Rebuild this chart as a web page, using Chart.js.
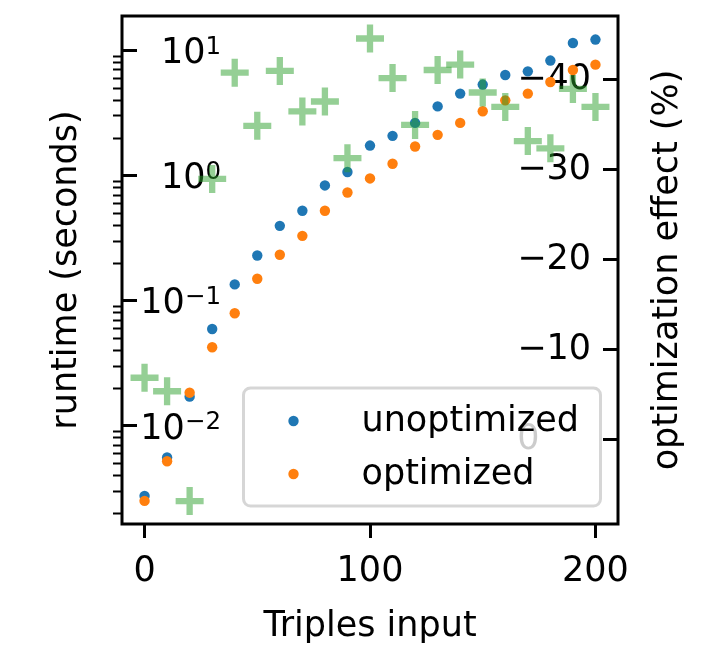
<!DOCTYPE html>
<html>
<head>
<meta charset="utf-8">
<script src="https://cdn.jsdelivr.net/npm/chart.js@4.4.1/dist/chart.umd.min.js"></script>
<style>
  html, body { margin: 0; padding: 0; background: #fff; }
  #chart { display: block; }
</style>
</head>
<body>
<canvas id="chart" width="701" height="645"></canvas>
<script>
// data
const tripleCounts = [0, 10, 20, 30, 40, 50, 60, 70, 80, 90, 100, 110, 120, 130, 140, 150, 160, 170, 180, 190, 200];
const unoptimized = [0.00275, 0.00558, 0.0171, 0.0594, 0.135, 0.230, 0.397, 0.524, 0.835, 1.07, 1.74, 2.08, 2.64, 3.58, 4.53, 5.35, 6.38, 6.82, 8.32, 11.5, 12.25];
const optimized = [0.00251, 0.00521, 0.0184, 0.0425, 0.0794, 0.150, 0.233, 0.330, 0.524, 0.733, 0.950, 1.245, 1.71, 2.12, 2.64, 3.27, 4.00, 4.53, 5.61, 7.00, 7.72];
const optimizationEffect = [-6.9, -5.4, 6.8, -29.0, -40.8, -34.9, -41.0, -36.5, -37.6, -31.3, -44.6, -40.2, -35.0, -41.1, -41.7, -38.6, -37.0, -33.2, -32.4, -39.0, -37.0];

const xTicks = [0, 100, 200];
const runtimeTicks = [0.01, 0.1, 1, 10];
const runtimeTickExponents = ['\u22122', '\u22121', '0', '1'];
const effectTicks = [-40, -30, -20, -10, 0];

const FONT = { family: 'DejaVu Sans', size: 35, lineHeight: 1 };
const RUNTIME_MIN = 0.00164;
const RUNTIME_MAX = 18.9;

function toPoints(values) {
    return tripleCounts.map((x, i) => ({ x: x, y: values[i] }));
}

// small ticks at 2..9 of every decade
function minorRuntimeTicks() {
    const out = [];
    for (let e = -3; e <= 1; e++) {
        for (let m = 2; m <= 9; m++) {
            const v = m * Math.pow(10, e);
            if (v >= RUNTIME_MIN && v <= RUNTIME_MAX) out.push({ value: v });
        }
    }
    return out;
}

// labels sit inside the plot, so the axes should not push the plot area in
function noLabelPadding(s) {
    s.paddingTop = 0;
    s.paddingBottom = 0;
    s.paddingLeft = 0;
    s.paddingRight = 0;
}

// 10^n labels of the log axis, with a real superscript
const runtimeLabelPlugin = {
    id: 'runtimeLabels',
    beforeDatasetsDraw(chart) {
        const { ctx, chartArea } = chart;
        const scale = chart.scales.yMajor;
        const right = chartArea.left + 99;
        ctx.save();
        ctx.fillStyle = '#000';
        ctx.textAlign = 'right';
        ctx.textBaseline = 'alphabetic';
        runtimeTicks.forEach((v, i) => {
            const baseline = scale.getPixelForValue(v) + 12.75;
            const exp = runtimeTickExponents[i];
            ctx.font = '24.5px "DejaVu Sans"';
            ctx.fillText(exp, right, baseline - 9.6);
            const w = ctx.measureText(exp).width;
            ctx.font = '35px "DejaVu Sans"';
            ctx.fillText('10', right - w, baseline);
        });
        ctx.restore();
    }
};

const framePlugin = {
    id: 'frame',
    afterDraw(chart) {
        const { ctx, chartArea } = chart;
        ctx.save();
        ctx.lineWidth = 3;
        ctx.strokeStyle = '#000';
        ctx.strokeRect(chartArea.left, chartArea.top, chartArea.width, chartArea.height);
        ctx.restore();
    }
};

const insideLegendPlugin = {
    id: 'insideLegend',
    afterDatasetsDraw(chart) {
        const { ctx, chartArea } = chart;
        const right = chartArea.right - 17.5;
        const bottom = chartArea.bottom - 18;
        const w = 357, h = 118;
        const left = right - w, top = bottom - h;
        ctx.save();
        ctx.beginPath();
        ctx.roundRect(left, top, w, h, 7);
        ctx.fillStyle = 'rgba(255,255,255,0.8)';
        ctx.fill();
        ctx.lineWidth = 3;
        ctx.strokeStyle = 'rgba(204,204,204,0.8)';
        ctx.stroke();

        const items = chart.data.datasets.filter(d => d.yAxisID === 'y');
        items.sort((a, b) => b.order - a.order);
        ctx.font = '35px "DejaVu Sans"';
        ctx.textAlign = 'left';
        ctx.textBaseline = 'alphabetic';
        items.forEach((d, i) => {
            const rowY = top + 33 + i * 53;
            ctx.beginPath();
            ctx.arc(left + 50, rowY, 5.2, 0, Math.PI * 2);
            ctx.fillStyle = d.pointBackgroundColor;
            ctx.fill();
            ctx.fillStyle = '#000';
            ctx.fillText(d.label, left + 118, rowY + 9.5);
        });
        ctx.restore();
    }
};

// right axis title reads bottom to top, like the left one
const rightTitlePlugin = {
    id: 'rightTitle',
    afterDraw(chart) {
        const { ctx, chartArea } = chart;
        ctx.save();
        ctx.translate(chartArea.right + 58.5, (chartArea.top + chartArea.bottom) / 2);
        ctx.rotate(-Math.PI / 2);
        ctx.font = '35px "DejaVu Sans"';
        ctx.fillStyle = '#000';
        ctx.textAlign = 'center';
        ctx.textBaseline = 'alphabetic';
        ctx.fillText('optimization effect (%)', 0, 0);
        ctx.restore();
    }
};

new Chart(document.getElementById('chart'), {
    type: 'scatter',
    data: {
        datasets: [
            {
                label: 'optimization effect',
                data: toPoints(optimizationEffect),
                yAxisID: 'y2',
                order: 0,
                pointStyle: 'cross',
                pointRadius: 14,
                pointBorderWidth: 6.3,
                pointBorderColor: 'rgba(44,160,44,0.5)',
                pointBackgroundColor: 'rgba(44,160,44,0.5)'
            },
            {
                label: 'optimized',
                data: toPoints(optimized),
                yAxisID: 'y',
                order: 1,
                pointRadius: 5.2,
                pointBorderWidth: 0,
                pointBackgroundColor: '#ff7f0e'
            },
            {
                label: 'unoptimized',
                data: toPoints(unoptimized),
                yAxisID: 'y',
                order: 2,
                pointRadius: 5.2,
                pointBorderWidth: 0,
                pointBackgroundColor: '#1f77b4'
            }
        ]
    },
    options: {
        responsive: false,
        animation: false,
        devicePixelRatio: 1,
        layout: { padding: { top: 16, left: 0, right: 0, bottom: 0 }, autoPadding: false },
        plugins: {
            legend: { display: false },
            tooltip: { enabled: false }
        },
        scales: {
            x: {
                type: 'linear',
                position: 'bottom',
                min: -10,
                max: 210,
                bounds: 'data',
                afterBuildTicks: s => { s.ticks = xTicks.map(v => ({ value: v })); },
                afterFit: s => { s.height = 121; noLabelPadding(s); },
                grid: { drawOnChartArea: false, tickLength: 14, tickWidth: 3, tickColor: '#000' },
                border: { display: false },
                ticks: { font: FONT, color: '#000', padding: 16, autoSkip: false, maxRotation: 0, callback: v => String(v) },
                title: { display: true, text: 'Triples input', font: FONT, color: '#000', padding: { top: 0, bottom: 1 } }
            },
            y: {
                type: 'logarithmic',
                position: 'left',
                weight: 1,
                min: RUNTIME_MIN,
                max: RUNTIME_MAX,
                bounds: 'data',
                afterBuildTicks: s => { s.ticks = minorRuntimeTicks(); },
                afterFit: s => { s.width = 122; noLabelPadding(s); },
                grid: { drawOnChartArea: false, tickLength: 9, tickWidth: 2, tickColor: '#000' },
                border: { display: false },
                ticks: { display: false, autoSkip: false },
                title: { display: true, text: 'runtime (seconds)', font: FONT, color: '#000', padding: { top: 49.5, bottom: 0 } }
            },
            yMajor: {
                type: 'logarithmic',
                position: 'left',
                weight: 0,
                min: RUNTIME_MIN,
                max: RUNTIME_MAX,
                bounds: 'data',
                afterBuildTicks: s => { s.ticks = runtimeTicks.map(v => ({ value: v })); },
                afterFit: s => { s.width = 0; noLabelPadding(s); },
                grid: { drawOnChartArea: false, tickLength: -15, tickWidth: 3, tickColor: '#000' },
                border: { display: false },
                ticks: { display: false, autoSkip: false }
            },
            y2: {
                type: 'linear',
                position: 'right',
                reverse: true,
                min: -47.1,
                max: 9.35,
                bounds: 'data',
                z: 1,
                afterBuildTicks: s => { s.ticks = effectTicks.map(v => ({ value: v })); },
                afterFit: s => { s.width = 83; noLabelPadding(s); },
                grid: { drawOnChartArea: false, tickLength: -15, tickWidth: 3, tickColor: '#000' },
                border: { display: false },
                ticks: {
                    mirror: true,
                    crossAlign: 'far',
                    padding: -27,
                    font: FONT,
                    color: '#000',
                    autoSkip: false,
                    callback: v => v < 0 ? '\u2212' + Math.abs(v) : String(v)
                }
            }
        }
    },
    plugins: [runtimeLabelPlugin, insideLegendPlugin, framePlugin, rightTitlePlugin]
});
</script>
</body>
</html>
